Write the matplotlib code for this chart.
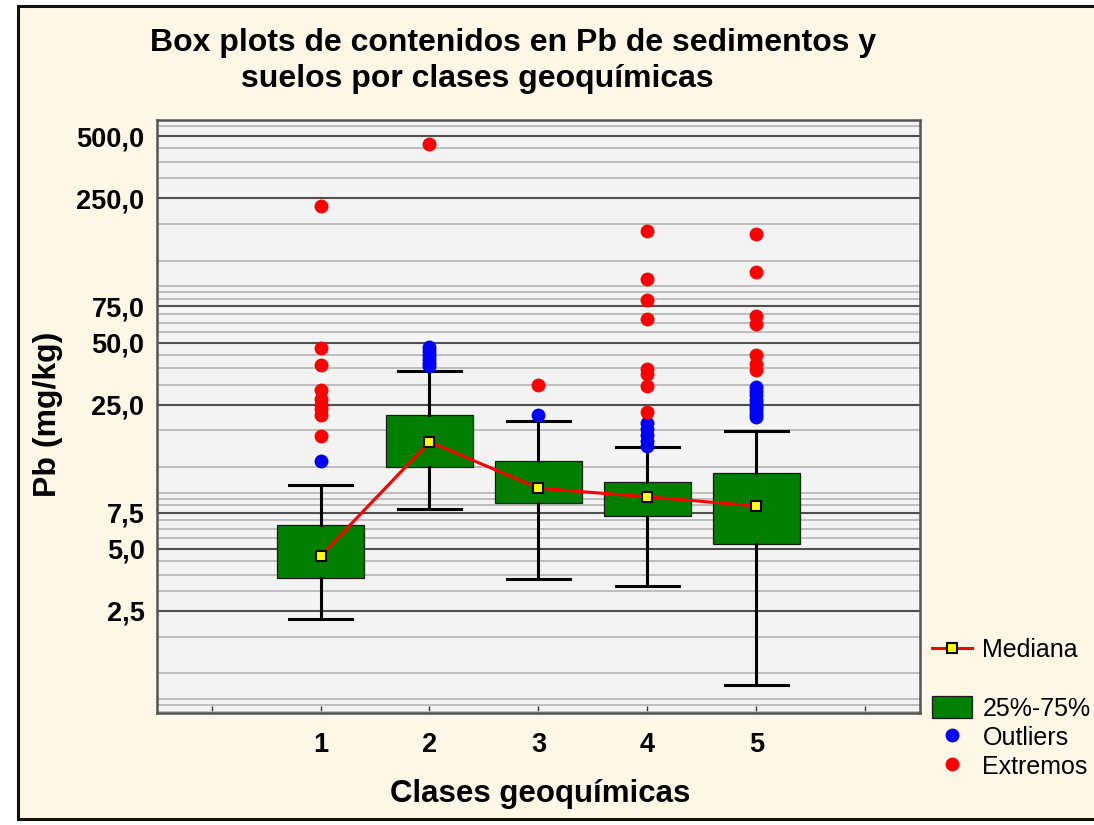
import numpy as np
import matplotlib
matplotlib.use("Agg")
import matplotlib.pyplot as plt
from matplotlib.lines import Line2D
from matplotlib.patches import Patch, Rectangle

plt.rcParams['font.family'] = ['Liberation Sans', 'DejaVu Sans']

# Datos (Pb, mg/kg)
classes = [1, 2, 3, 4, 5]
q1 = [3.60, 12.5, 8.35, 7.18, 5.29]
medians = [4.62, 16.5, 9.84, 8.93, 8.07]
q3 = [6.52, 22.2, 13.4, 10.5, 11.6]
whisk_lo = [2.28, 7.78, 3.58, 3.29, 1.09]
whisk_hi = [10.25, 36.4, 20.9, 15.5, 18.7]
outliers = [
    [13.3],
    [47.4, 45.5, 43.5, 41.5, 40.0, 38.4],
    [22.4],
    [20.4, 19.0, 17.8, 16.7, 15.8],
    [30.4, 29.0, 27.7, 26.3, 25.3, 24.3, 23.5, 22.6, 21.8],
]
extremes = [
    [231, 47.0, 39.1, 29.3, 26.7, 25.0, 23.8, 22.4, 17.6],
    [457],
    [31.0],
    [174, 101.5, 80.7, 64.8, 37.4, 35.3, 30.7, 23.0],
    [167.6, 109.4, 67.2, 61.7, 43.4, 39.5, 36.7],
]
ytick_vals = [2.5, 5, 7.5, 25, 50, 75, 250, 500]
ytick_labels = ['2,5', '5,0', '7,5', '25,0', '50,0', '75,0', '250,0', '500,0']

fig = plt.figure(figsize=(10.94, 8.25), dpi=100, facecolor='white')
fig.patches.append(Rectangle((18 / 1094, 6 / 825), 1.0, 813 / 825,
                             transform=fig.transFigure, facecolor='#fff7e6',
                             edgecolor='#111111', linewidth=2.2, zorder=-10))

ax = fig.add_axes([157 / 1094, 1 - 713 / 825, 763 / 1094, 593 / 825])
ax.set_facecolor('#f3f3f3')
ax.set_yscale('log')

stats = []
for i in range(len(classes)):
    stats.append({'med': medians[i], 'q1': q1[i], 'q3': q3[i],
                  'whislo': whisk_lo[i], 'whishi': whisk_hi[i], 'fliers': []})
ax.bxp(stats, positions=classes, widths=0.8, capwidths=0.58, patch_artist=True,
       showfliers=False, manage_ticks=False,
       boxprops=dict(facecolor='#007f00', edgecolor='#1a1a1a', linewidth=0.9),
       whiskerprops=dict(color='black', linewidth=2.2),
       capprops=dict(color='black', linewidth=2.2),
       medianprops=dict(linewidth=0))

for i, c in enumerate(classes):
    ax.plot([c] * len(outliers[i]), outliers[i], 'o', color='#0000ff', ms=10,
            markeredgewidth=0, zorder=4)
    ax.plot([c] * len(extremes[i]), extremes[i], 'o', color='#ff0000', ms=10,
            markeredgewidth=0, zorder=4)

ax.plot(classes, medians, color='#ff0000', linewidth=2.2, marker='s', ms=7,
        markerfacecolor='#ffff00', markeredgecolor='black', markeredgewidth=1.5,
        zorder=5)

ax.set_ylim(0.8, 600)
ax.set_xlim(-0.5, 6.5)

# minor grid lines (Statistica style log grid)
minor = []
for k in range(-1, 3):
    for m in range(2, 16):
        v = 0.625 * m * 10 ** k
        if 0.8 < v < 600 and not any(np.isclose(v, t) for t in ytick_vals):
            minor.append(v)
ax.set_yticks(ytick_vals)
ax.set_yticklabels(ytick_labels)
ax.set_yticks(minor, minor=True)
ax.yaxis.set_minor_formatter(plt.NullFormatter())
ax.grid(True, axis='y', which='major', color='#505050', linewidth=1.5, zorder=0)
ax.grid(True, axis='y', which='minor', color='#b4b4b4', linewidth=1.2, zorder=0)
ax.set_axisbelow(True)
ax.tick_params(axis='y', which='both', length=0, pad=9, labelsize=19.5)
for lab in ax.get_yticklabels():
    lab.set_fontweight('bold')

ax.set_xticks(range(0, 7))
ax.set_xticklabels(['', '1', '2', '3', '4', '5', ''], fontsize=19.5, fontweight='bold')
ax.tick_params(axis='x', direction='in', length=5, width=1, color='#333333', pad=14)

for s in ax.spines.values():
    s.set_color('#555555')
    s.set_linewidth(1.8)

fig.text(513 / 1094, 1 - 43 / 825, 'Box plots de contenidos en Pb de sedimentos y',
         ha='center', va='center', fontsize=23, fontweight='bold')
fig.text(477 / 1094, 1 - 79 / 825, 'suelos por clases geoquímicas',
         ha='center', va='center', fontsize=23, fontweight='bold')
fig.text(540 / 1094, 1 - 794 / 825, 'Clases geoquímicas',
         ha='center', va='center', fontsize=22.5, fontweight='bold')
fig.text(48 / 1094, 1 - 414 / 825, 'Pb (mg/kg)', rotation=90,
         ha='center', va='center', fontsize=23, fontweight='bold')

handles = [
    Line2D([], [], color='#ff0000', linewidth=2.2, marker='s', ms=7,
           markerfacecolor='#ffff00', markeredgecolor='black', markeredgewidth=1.5),
    Patch(facecolor='none', edgecolor='none'),
    Patch(facecolor='#007f00', edgecolor='#1a1a1a', linewidth=0.9),
    Line2D([], [], linestyle='none', marker='o', color='#0000ff', ms=10, markeredgewidth=0),
    Line2D([], [], linestyle='none', marker='o', color='#ff0000', ms=10, markeredgewidth=0),
]
labels = ['Mediana', '', '25%-75%', 'Outliers', 'Extremos']
fig.legend(handles, labels, loc='upper left', bbox_to_anchor=(932 / 1094, 1 - 638 / 825),
           frameon=False, fontsize=18, handlelength=1.6, handleheight=0.95,
           handletextpad=0.42, labelspacing=0.19, borderpad=0, borderaxespad=0,
           numpoints=1)

fig.savefig('out.png', dpi=100, facecolor=fig.get_facecolor())
